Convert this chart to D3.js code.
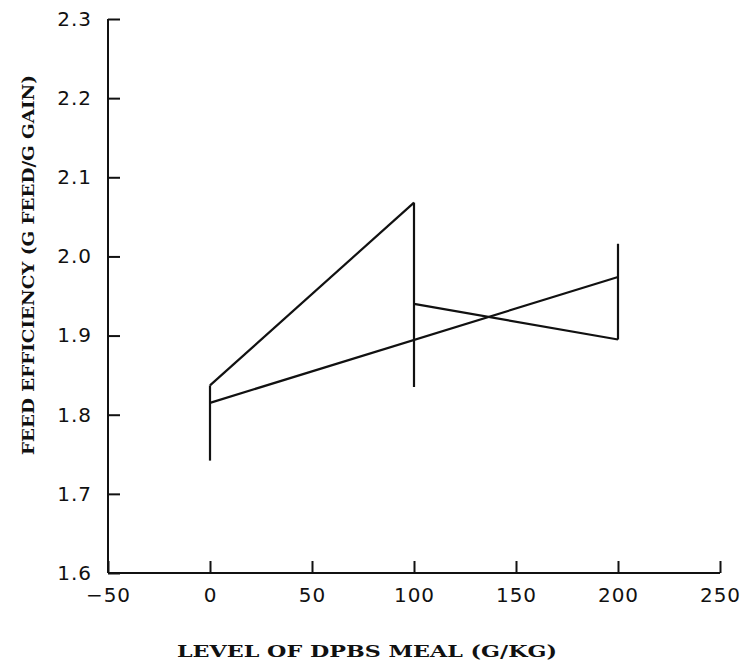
<!DOCTYPE html>
<meta charset="utf-8">
<style>
body{margin:0;background:#fff}
.tick text{font-family:"DejaVu Sans",sans-serif;font-size:20px;fill:#111;letter-spacing:1px}
.ttl{font-family:"DejaVu Serif",serif;font-weight:bold;font-size:17px;fill:#111}
</style>
<body>
<svg></svg>
<script src="https://cdnjs.cloudflare.com/ajax/libs/d3/7.8.5/d3.min.js"></script>
<script>

// means joined by lines (two pieces) and a fitted line
var xTicks=[-50,0,50,100,150,200,250];
var yTicks=[1.6,1.7,1.8,1.9,2.0,2.1,2.2,2.3];

var lowX=[0,100], lowY=[1.837,2.068];
var highX=[100,200], highY=[1.940,1.895];
var fitX=[0,200], fitY=[1.815,1.974];

// vertical bars at each level
var barX=[0,100,200];
var barLo=[1.742,1.835,1.895];
var barHi=[1.837,2.068,2.016];

var W=745, H=669;
var margin={top:19,left:108,right:25,bottom:96};

var svg=d3.select('svg').attr("width",W).attr("height",H);

var x=d3.scaleLinear().domain([-50,250]).range([margin.left,W-margin.right]);
var y=d3.scaleLinear().domain([1.6,2.3]).range([H-margin.bottom,margin.top]);

var line=d3.line().x(d=>x(d[0])).y(d=>y(d[1]));

var xa=svg.append('g')
	.attr("transform","translate(0,"+y(1.6)+")")
	.call(d3.axisBottom(x).tickValues(xTicks).tickSize(-12).tickPadding(15)
		.tickFormat(d=>d<0 ? "\u2212"+(-d) : d));
var ya=svg.append('g')
	.attr("transform","translate("+x(-50)+",0)")
	.call(d3.axisLeft(y).tickValues(yTicks).tickSize(-12).tickPadding(16).tickFormat(d3.format(".1f")));

[xa,ya].forEach(a=>{
	a.select('.domain').attr("stroke","#111").attr("stroke-width",2).attr("d",
		a===xa ? "M"+x(-50)+",0H"+x(250) : "M0,"+y(1.6)+"V"+y(2.3));
	a.selectAll('.tick line').attr("stroke","#111").attr("stroke-width",2);
});

var lines=[d3.zip(lowX,lowY),d3.zip(highX,highY),d3.zip(fitX,fitY)];
svg.selectAll('.seg').data(lines).enter().append('path')
	.attr("class","seg")
	.attr("d",line)
	.attr("fill","none").attr("stroke","#111").attr("stroke-width",2.2);

svg.selectAll('.bar').data(barX).enter().append('line')
	.attr("class","bar")
	.attr("x1",d=>x(d)).attr("x2",d=>x(d))
	.attr("y1",(d,i)=>y(barLo[i])).attr("y2",(d,i)=>y(barHi[i]))
	.attr("stroke","#111").attr("stroke-width",2.2);

svg.append('text').attr("class","ttl")
	.attr("x",367).attr("y",657).attr("text-anchor","middle")
	.attr("textLength",380).attr("lengthAdjust","spacingAndGlyphs")
	.text("LEVEL OF DPBS MEAL (G/KG)");

svg.append('text').attr("class","ttl")
	.attr("transform","translate(34,265) rotate(-90)").attr("text-anchor","middle")
	.attr("textLength",380).attr("lengthAdjust","spacingAndGlyphs")
	.text("FEED EFFICIENCY (G FEED/G GAIN)");
</script>
